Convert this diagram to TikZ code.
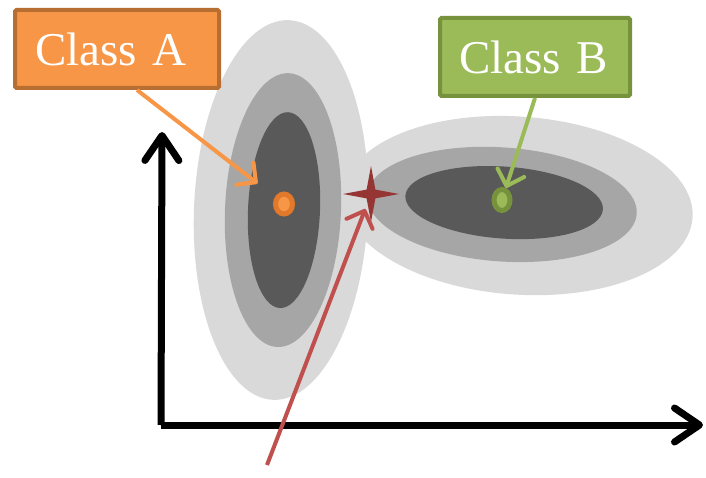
\documentclass[tikz,border=0pt]{standalone}
\usepackage{fontspec}
\setmainfont{Liberation Serif}
\usetikzlibrary{arrows.meta,shapes.geometric}
\definecolor{CAFill}{RGB}{247,150,70}
\definecolor{CAEdge}{RGB}{183,110,50}
\definecolor{CARing}{RGB}{226,121,42}
\definecolor{CBFill}{RGB}{155,187,89}
\definecolor{CBEdge}{RGB}{118,146,60}
\definecolor{RingLight}{RGB}{217,217,217}
\definecolor{RingMid}{RGB}{166,166,166}
\definecolor{RingDark}{RGB}{89,89,89}
\definecolor{TestRed}{RGB}{192,80,77}
\definecolor{TestDark}{RGB}{150,54,52}

\begin{document}
\begin{tikzpicture}[x=1pt,y=-1pt,
    classbox/.style={draw,line width=4pt,rounded corners=1.5pt,minimum height=78pt,
      font=\fontsize{47}{50}\selectfont,text=white,align=left,inner xsep=20pt},
    mean/.style={ellipse,line width=5pt,inner sep=0pt},
    pointer/.style={line width=4pt,-{Straight Barb[length=14pt,width=28pt,round]}},
    axis/.style={line width=7pt,-{Straight Barb[length=25pt,width=34pt,round]}}]
  \useasboundingbox (0,0) rectangle (706,478);

  % class A spread
  \begin{scope}[rotate around={-2.4:(281,210)}]
    \fill[RingLight] (281,210) ellipse [x radius=87, y radius=190];
    \fill[RingMid] (283,210) ellipse [x radius=58, y radius=137];
    \fill[RingDark] (284,210) ellipse [x radius=36, y radius=98];
  \end{scope}
  % class B spread
  \begin{scope}[rotate around={-4:(510,205)}]
    \fill[RingLight] (518,205) ellipse [x radius=175, y radius=89];
    \fill[RingMid] (502,205) ellipse [x radius=135, y radius=57];
    \fill[RingDark] (504,203) ellipse [x radius=99, y radius=36];
  \end{scope}

  % axes
  \coordinate (origin) at (161,425);
  \coordinate (yEnd) at (162,132);
  \coordinate (xEnd) at (703,425);
  \draw[axis] (origin) -- (yEnd);
  \draw[axis] (origin) -- (xEnd);

  \node[classbox,draw=CAEdge,fill=CAFill,text width=164pt] (classA) at (117,49) {Class A};
  \node[classbox,draw=CBEdge,fill=CBFill,text width=152pt,inner xsep=19pt] (classB) at (535,57) {Class B};

  \node[mean,draw=CARing,fill=CAFill,minimum width=17pt,minimum height=20pt] (meanA) at (284,204) {};
  \node[mean,draw=CBEdge,fill=CBFill,minimum width=16pt,minimum height=21pt] (meanB) at (502,200) {};
  \node[star,star points=4,star point ratio=4.5,minimum size=56pt,inner sep=0pt,fill=TestDark] (query) at (371,194) {};
  \coordinate (rayStart) at (267,465);

  \draw[pointer,CAFill,shorten >=22pt] (classA.-64) -- (meanA);
  \draw[pointer,CBFill] (classB.south) -- (meanB);
  \draw[pointer,TestRed,shorten >=16pt] (rayStart) -- (query.center);
\end{tikzpicture}
\end{document}
